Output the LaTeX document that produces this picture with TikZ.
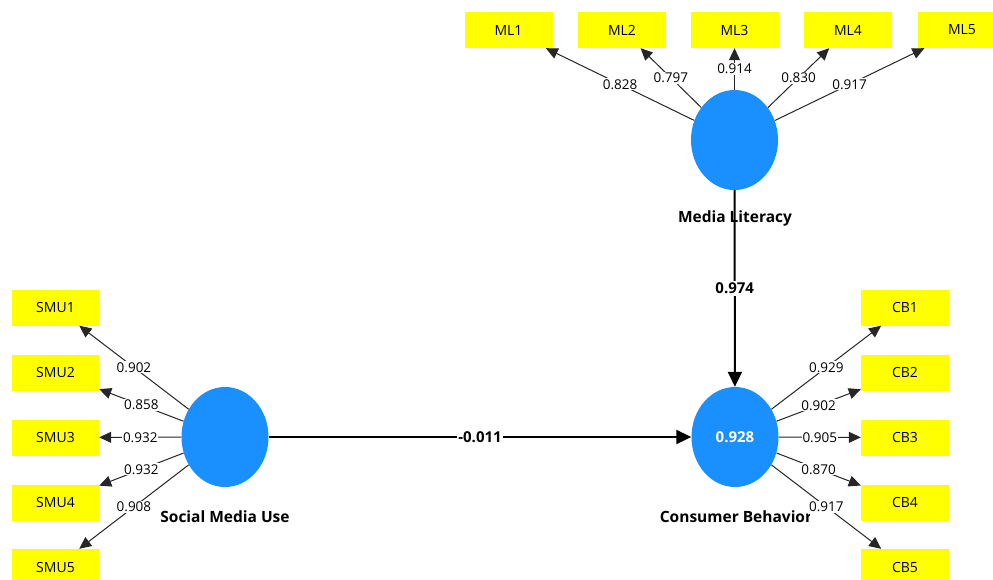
\documentclass[tikz,border=0pt]{standalone}
\usepackage{fontspec}
\setmainfont{Open Sans}
\usetikzlibrary{shapes.geometric,arrows.meta}
\definecolor{latblue}{RGB}{26,144,255}
\definecolor{indyellow}{RGB}{255,255,0}
\begin{document}
\begin{tikzpicture}[x=1pt,y=-1pt,
  ind/.style={rectangle,fill=indyellow,minimum width=88pt,minimum height=36pt,inner sep=0pt,font=\fontsize{14}{16}\selectfont},
  lat/.style={ellipse,fill=latblue,minimum width=87pt,minimum height=100pt,inner sep=0pt},
  load/.style={draw=black!85,line width=1pt,-{Triangle[length=12pt,width=11pt]}},
  strpath/.style={draw=black,line width=2pt,-{Triangle[length=15pt,width=14pt]}},
  lab/.style={fill=white,inner sep=1pt,font=\fontsize{13.5}{15}\selectfont},
  blab/.style={fill=white,inner sep=1.5pt,font=\bfseries\fontsize{15}{17}\selectfont},
  lname/.style={font=\bfseries\fontsize{15.5}{17}\selectfont}]
\useasboundingbox (0,0) rectangle (993,579);
\fill[white] (0,0) rectangle (993,579);
\clip (0,0) rectangle (993,579);

% indicators
\node[ind] (ml1) at (508.5,30) {ML1};
\node[ind] (ml2) at (622,30) {ML2};
\node[ind] (ml3) at (734.5,30) {ML3};
\node[ind] (ml4) at (848,30) {ML4};
\node[ind] (ml5) at (962,30) {ML5};

\node[ind,minimum width=87pt] (smu1) at (55.5,307.5) {SMU1};
\node[ind,minimum width=87pt] (smu2) at (55.5,372.5) {SMU2};
\node[ind,minimum width=87pt] (smu3) at (55.5,437.5) {SMU3};
\node[ind,minimum width=87pt] (smu4) at (55.5,502.5) {SMU4};
\node[ind,minimum width=87pt] (smu5) at (55.5,567) {SMU5};

\node[ind] (cb1) at (905,307.5) {CB1};
\node[ind] (cb2) at (905,372.5) {CB2};
\node[ind] (cb3) at (905,437.5) {CB3};
\node[ind] (cb4) at (905,502.5) {CB4};
\node[ind] (cb5) at (905,567) {CB5};

% latent variables
\node[lat] (ml) at (734.5,140) {};
\node[lat] (smu) at (225,437) {};
\node[lat,text=white,font=\bfseries\fontsize{15}{17}\selectfont] (cb) at (735,437) {0.928};

% names
\node[lname] (mlname) at (735,218) {Media Literacy};
\node[lname] (smuname) at (225,517) {Social Media Use};
\begin{scope}
  \clip (600,495) rectangle (809,540);
  \node[lname] (cbname) at (736,517) {Consumer Behavior};
\end{scope}

% outer loadings
\draw[load] (ml) -- node[lab]{0.828} (ml1);
\draw[load] (ml) -- node[lab]{0.797} (ml2);
\draw[load] (ml) -- node[lab]{0.914} (ml3);
\draw[load] (ml) -- node[lab]{0.830} (ml4);
\draw[load] (ml) -- node[lab]{0.917} (ml5);

\draw[load] (smu) -- node[lab]{0.902} (smu1);
\draw[load] (smu) -- node[lab]{0.858} (smu2);
\draw[load] (smu) -- node[lab]{0.932} (smu3);
\draw[load] (smu) -- node[lab]{0.932} (smu4);
\draw[load] (smu) -- node[lab]{0.908} (smu5);

\draw[load] (cb) -- node[lab]{0.929} (cb1);
\draw[load] (cb) -- node[lab]{0.902} (cb2);
\draw[load] (cb) -- node[lab]{0.905} (cb3);
\draw[load] (cb) -- node[lab]{0.870} (cb4);
\draw[load] (cb) -- node[lab]{0.917} (cb5);

% structural paths
\draw[strpath] (ml) -- node[blab]{0.974} (cb);
\draw[strpath] (smu) -- node[blab]{-0.011} (cb);
\end{tikzpicture}
\end{document}
